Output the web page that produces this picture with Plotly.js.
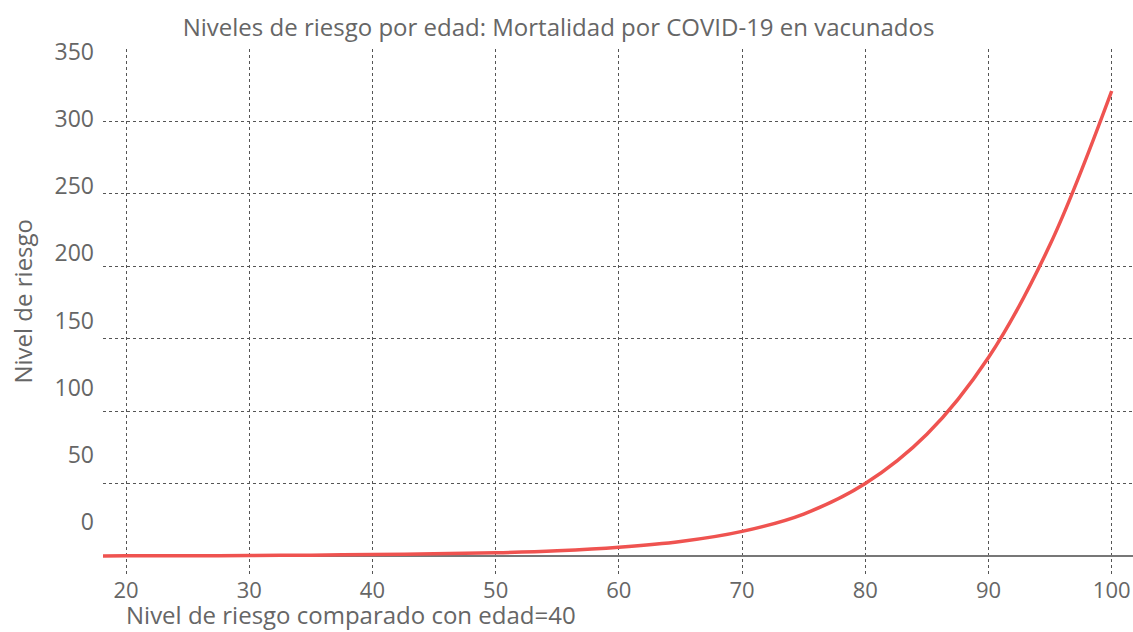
<!DOCTYPE html>
<html>
<head>
<meta charset="utf-8">
<script src="https://cdn.plot.ly/plotly-3.0.1.min.js"></script>
<style>html,body{margin:0;padding:0;background:#fff;}#chart{width:1133px;height:632px;}</style>
</head>
<body>
<div id="chart"></div>
<script>
// Data
const ages = [18, 20, 25, 30, 35, 40, 45, 50, 55, 60, 65, 70, 75, 80, 85, 90, 95, 100];
const riskLevel = [0.1, 0.13, 0.22, 0.35, 0.6, 1, 1.5, 2.2, 3.6, 6, 10, 17, 29, 50, 84, 137, 215, 321];
const yTickValues = [0, 50, 100, 150, 200, 250, 300, 350];
const xTickValues = [20, 30, 40, 50, 60, 70, 80, 90, 100];

const titleText = 'Niveles de riesgo por edad: Mortalidad por COVID-19 en vacunados';
const yTitleText = 'Nivel de riesgo';
const xTitleText = 'Nivel de riesgo comparado con edad=40';

const gray = '#666666';
const fontFamily = '"Open Sans", sans-serif';

const traces = [
  {
    x: ages, y: riskLevel, type: 'scatter', mode: 'lines',
    line: {color: '#ef5350', width: 3.5, shape: 'spline', smoothing: 1},
    hoverinfo: 'x+y', showlegend: false
  },
  {
    x: ages, y: riskLevel, type: 'scatter', mode: 'lines', yaxis: 'y2',
    line: {color: 'rgba(0,0,0,0)', width: 0},
    hoverinfo: 'skip', showlegend: false
  }
];

const layout = {
  width: 1133, height: 632,
  margin: {l: 103, r: 0, t: 49, b: 57, pad: 0},
  paper_bgcolor: '#ffffff', plot_bgcolor: '#ffffff',
  font: {family: fontFamily, size: 22, color: gray},
  showlegend: false,
  title: {
    text: titleText, x: 0.493, xanchor: 'center', xref: 'container',
    y: 0.957, yanchor: 'middle', yref: 'container',
    font: {family: fontFamily, size: 24, color: gray}
  },
  xaxis: {
    range: [18.13, 101.73], tickvals: xTickValues, ticks: '',
    showgrid: true, gridcolor: '#555555', griddash: 'dot', gridwidth: 1,
    zeroline: false, showline: false,
    tickfont: {size: 22, color: gray}, ticklabelstandoff: 0
  },
  yaxis: {
    range: [-13.1, 350], tickvals: yTickValues, ticks: '',
    showticklabels: false,
    showgrid: true, gridcolor: '#555555', griddash: 'dot', gridwidth: 1,
    zeroline: true, zerolinecolor: '#777777', zerolinewidth: 2,
    showline: false
  },
  yaxis2: {
    overlaying: 'y', side: 'left', range: [-39.47, 352.2],
    tickvals: yTickValues, ticks: '', showgrid: false, zeroline: false,
    showline: false, tickfont: {size: 23, color: gray}, ticklabelstandoff: 8
  },
  annotations: [
    {
      text: xTitleText, xref: 'paper', yref: 'paper',
      x: 0.0214, xanchor: 'left', y: -0.1084, yanchor: 'bottom',
      showarrow: false, font: {size: 24, color: gray}, borderpad: 0
    },
    {
      text: yTitleText, xref: 'paper', yref: 'paper',
      x: -0.0786, xanchor: 'center', y: 0.52, yanchor: 'middle', textangle: -90,
      showarrow: false, font: {size: 24, color: gray}
    }
  ]
};

Plotly.newPlot('chart', traces, layout, {displayModeBar: false, responsive: false});
</script>
</body>
</html>
